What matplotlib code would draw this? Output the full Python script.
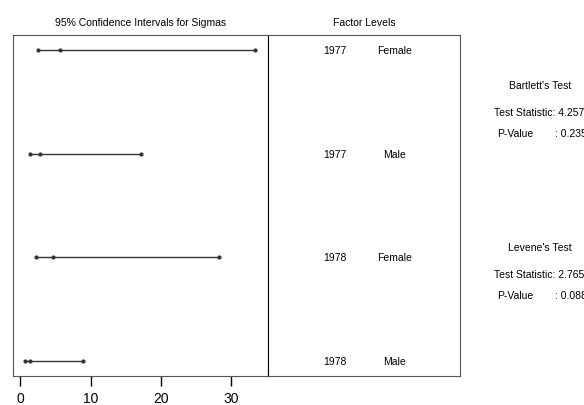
import matplotlib.pyplot as plt

plt.rcParams['font.family'] = ['Liberation Sans', 'DejaVu Sans']

# Data
years = ['1977', '1977', '1978', '1978']
sexes = ['Female', 'Male', 'Female', 'Male']
lower = [2.6, 1.4, 2.2, 0.65]
sigma = [5.6, 2.8, 4.7, 1.35]
upper = [33.4, 17.2, 28.3, 8.95]

bartlett_stat = '4.257'
bartlett_p = '0.235'
levene_stat = '2.765'
levene_p = '0.088'

fig = plt.figure(figsize=(5.84, 4.06), dpi=100)

# left panel: confidence intervals
ax = fig.add_axes([0.0217, 0.0714, 0.437, 0.840])
rows = list(range(len(years), 0, -1))
for r, lo, mid, hi in zip(rows, lower, sigma, upper):
    ax.plot([lo, hi], [r, r], color='#333333', lw=1)
    ax.plot([lo, mid, hi], [r, r, r], 'o', color='#333333', ms=2)
ax.set_xlim(-1.07, 35.2)
ax.set_ylim(0.86, 4.14)
ax.set_xticks([0, 10, 20, 30])
ax.set_yticks([])
ax.tick_params(axis='x', direction='out', length=7, width=1, labelsize=10, pad=4)
for s in ax.spines.values():
    s.set_color('#555555')
ax.spines['right'].set_color('black')
ax.set_title('95% Confidence Intervals for Sigmas', fontsize=7.5, pad=7)

# middle panel: factor levels
ax2 = fig.add_axes([0.459, 0.0714, 0.329, 0.840])
ax2.set_xlim(0, 1)
ax2.set_ylim(0.86, 4.14)
ax2.set_xticks([])
ax2.set_yticks([])
for s in ax2.spines.values():
    s.set_color('#555555')
ax2.spines['left'].set_color('black')
for r, y, sx in zip(rows, years, sexes):
    ax2.text(0.35, r, y, ha='center', va='center', fontsize=7.5)
    ax2.text(0.66, r, sx, ha='center', va='center', fontsize=7.5)
ax2.set_title('Factor Levels', fontsize=7.5, pad=7)

# right side: test results
def fy(py):
    return 1 - py / 406.0

def test_block(name, stat, p, top):
    fig.text(540 / 584, fy(top), name, ha='center', va='center', fontsize=7.5)
    fig.text(494 / 584, fy(top + 27), 'Test Statistic: ' + stat, ha='left', va='center', fontsize=7.5)
    fig.text(497 / 584, fy(top + 48), 'P-Value', ha='left', va='center', fontsize=7.5)
    fig.text(555 / 584, fy(top + 48), ': ' + p, ha='left', va='center', fontsize=7.5)

test_block("Bartlett's Test", bartlett_stat, bartlett_p, 86)
test_block("Levene's Test", levene_stat, levene_p, 248)

fig.savefig('out.png', dpi=100)
